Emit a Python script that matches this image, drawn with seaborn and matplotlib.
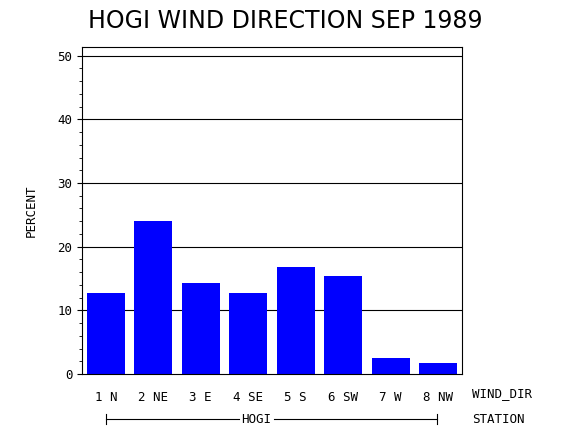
import matplotlib
matplotlib.use("Agg")
import matplotlib.pyplot as plt
import seaborn as sns
import pandas as pd

directions = ["1 N", "2 NE", "3 E", "4 SE", "5 S", "6 SW", "7 W", "8 NW"]
percent = [12.7, 24.1, 14.3, 12.7, 16.8, 15.4, 2.6, 1.7]

df = pd.DataFrame({"dir": directions, "pct": percent})

fig = plt.figure(figsize=(5.7, 4.3), dpi=100)
ax = fig.add_axes([0.144, 0.130, 0.666, 0.760])
sns.barplot(data=df, x="dir", y="pct", color="#0000ff", saturation=1, width=0.8, ax=ax)
for p in ax.patches:
    p.set_edgecolor("none")

ax.set_ylim(0, 51.3)
ax.set_yticks(range(0, 51, 10))
ax.set_yticks(range(0, 51, 2), minor=True)
for y in range(10, 51, 10):
    ax.axhline(y, color="black", lw=0.8, zorder=0)
ax.set_xlim(-0.5, 7.5)
ax.tick_params(axis="x", length=0, pad=12, labelsize=9)
ax.tick_params(axis="y", labelsize=9)
ax.tick_params(axis="y", which="minor", length=2)
for lab in ax.get_xticklabels() + ax.get_yticklabels():
    lab.set_family("DejaVu Sans Mono")
ax.set_xlabel("")
ax.set_ylabel("PERCENT", family="DejaVu Sans Mono", fontsize=9, labelpad=14)
for s in ax.spines.values():
    s.set_linewidth(0.8)

fig.text(0.5, 0.95, "HOGI WIND DIRECTION SEP 1989", ha="center", va="center", fontsize=17)
fig.text(0.828, 0.085, "WIND_DIR", family="DejaVu Sans Mono", fontsize=9, va="center")
fig.text(0.828, 0.025, "STATION", family="DejaVu Sans Mono", fontsize=9, va="center")
fig.text(0.45, 0.025, "HOGI", family="DejaVu Sans Mono", fontsize=9, ha="center", va="center")
y0 = 0.025
fig.add_artist(plt.Line2D([0.186, 0.42], [y0, y0], color="black", lw=0.8))
fig.add_artist(plt.Line2D([0.48, 0.766], [y0, y0], color="black", lw=0.8))
fig.add_artist(plt.Line2D([0.186, 0.186], [y0 - 0.012, y0 + 0.012], color="black", lw=0.8))
fig.add_artist(plt.Line2D([0.766, 0.766], [y0 - 0.012, y0 + 0.012], color="black", lw=0.8))

fig.savefig("out.png", dpi=100)
